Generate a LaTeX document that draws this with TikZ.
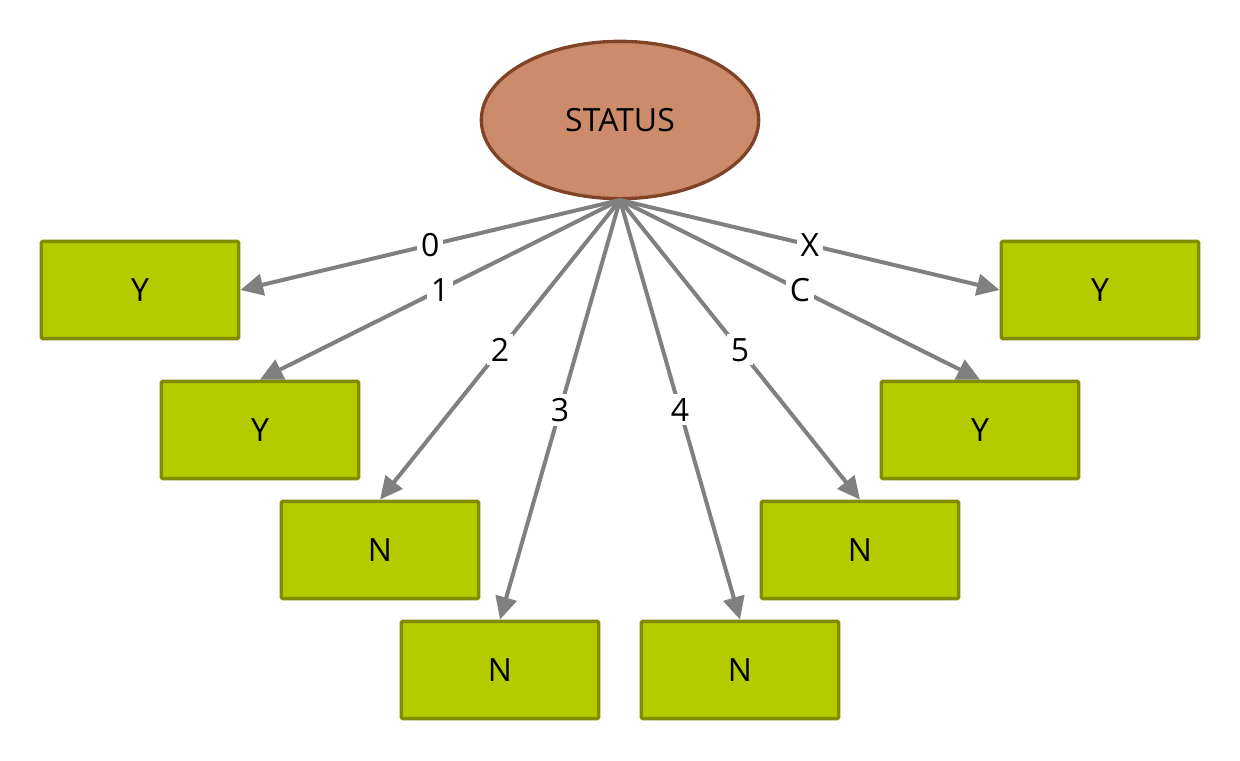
\documentclass[tikz,border=0pt]{standalone}
\usepackage{fontspec}
\setmainfont{Open Sans}
\usetikzlibrary{shapes.geometric,arrows.meta}
\definecolor{ellfill}{HTML}{CC8B6A}
\definecolor{elldraw}{HTML}{7F4427}
\definecolor{boxfill}{HTML}{B5CB00}
\definecolor{boxdraw}{HTML}{7F8C00}
\definecolor{edgecol}{HTML}{808080}
\begin{document}
\begin{tikzpicture}[x=0.75pt,y=-0.75pt,
  statusnode/.style={ellipse,draw=elldraw,fill=ellfill,line width=2.5pt,minimum width=208pt,minimum height=118pt,inner sep=0pt,font=\fontsize{24}{28}\selectfont},
  leaf/.style={rectangle,draw=boxdraw,fill=boxfill,line width=2.6pt,rounded corners=1pt,minimum width=148pt,minimum height=73pt,inner sep=0pt,font=\fontsize{24}{28}\selectfont},
  edge/.style={draw=edgecol,line width=3pt,-{Triangle[length=17pt,width=16pt]}},
  elabel/.style={fill=white,inner sep=3pt,font=\fontsize{24}{28}\selectfont}]
\useasboundingbox (0,0) rectangle (1240,761);
\node[statusnode] (s) at (620,120) {STATUS};
\coordinate (o) at (620,200);
\node[leaf] (y1) at (140,290) {Y};
\node[leaf] (y2) at (260,430) {Y};
\node[leaf] (n1) at (380,550) {N};
\node[leaf] (n2) at (500,670) {N};
\node[leaf] (n3) at (740,670) {N};
\node[leaf] (n4) at (860,550) {N};
\node[leaf] (y3) at (980,430) {Y};
\node[leaf] (y4) at (1100,290) {Y};
\draw[edge] (o) -- node[elabel]{0} (y1.east);
\draw[edge] (o) -- node[elabel]{1} (y2.north);
\draw[edge] (o) -- node[elabel]{2} (n1.north);
\draw[edge] (o) -- node[elabel]{3} (n2.north);
\draw[edge] (o) -- node[elabel]{4} (n3.north);
\draw[edge] (o) -- node[elabel]{5} (n4.north);
\draw[edge] (o) -- node[elabel]{C} (y3.north);
\draw[edge] (o) -- node[elabel]{X} (y4.west);
\end{tikzpicture}
\end{document}
